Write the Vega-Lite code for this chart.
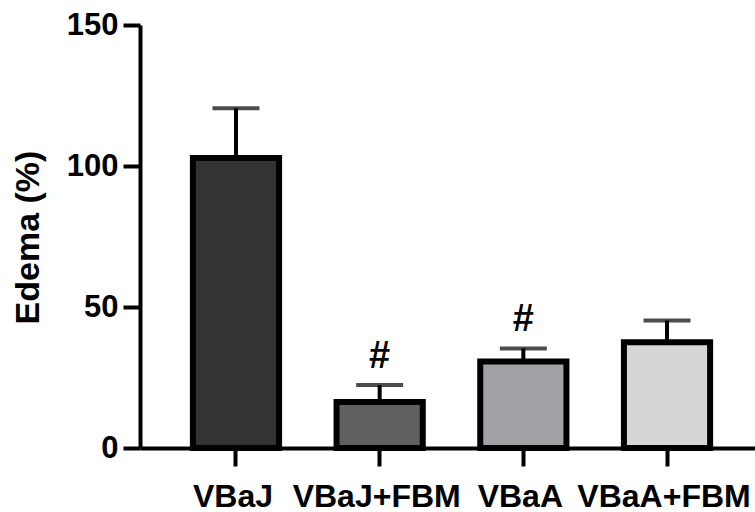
{
  "$schema": "https://vega.github.io/schema/vega-lite/v6.json",
  "width": 623,
  "height": 423,
  "autosize": "none",
  "padding": {"left": 140, "top": 25, "right": 0, "bottom": 64},
  "background": "white",
  "config": {"view": {"stroke": null}, "font": "Liberation Sans"},
  "data": {
    "values": [
      {"group": "VBaJ", "mean": 102.8, "upper": 120.5, "sig": ""},
      {"group": "VBaJ+FBM", "mean": 16.3, "upper": 22.3, "sig": "#"},
      {"group": "VBaA", "mean": 30.7, "upper": 35.3, "sig": "#"},
      {"group": "VBaA+FBM", "mean": 37.5, "upper": 45.2, "sig": ""}
    ]
  },
  "encoding": {
    "x": {
      "field": "group",
      "type": "nominal",
      "sort": null,
      "scale": {"paddingInner": 0.4, "paddingOuter": 0.368},
      "axis": {
        "title": null,
        "labelAngle": 0,
        "labelFont": "Liberation Sans",
        "labelFontWeight": "bold",
        "labelFontSize": 32,
        "labelColor": "black",
        "labelPadding": 40,
        "labelBaseline": "alphabetic",
        "labelOffset": -3,
        "labelOverlap": false,
        "domainColor": "black",
        "domainWidth": 4,
        "tickColor": "black",
        "tickWidth": 4,
        "tickSize": 18,
        "grid": false
      }
    }
  },
  "layer": [
    {
      "mark": {"type": "rule", "color": "black", "strokeWidth": 4},
      "encoding": {
        "y": {"field": "mean", "type": "quantitative"},
        "y2": {"field": "upper"}
      }
    },
    {
      "mark": {"type": "tick", "color": "black", "thickness": 4, "size": 47, "orient": "horizontal"},
      "encoding": {
        "y": {"field": "upper", "type": "quantitative"}
      }
    },
    {
      "mark": {"type": "bar", "stroke": "black", "strokeWidth": 6},
      "encoding": {
        "y": {
          "field": "mean",
          "type": "quantitative",
          "scale": {"domain": [0, 150], "nice": false},
          "axis": {
            "title": "Edema (%)",
            "values": [0, 50, 100, 150],
            "titleFont": "Liberation Sans",
            "titleFontWeight": "bold",
            "titleFontSize": 34,
            "titleColor": "black",
            "titleX": -112,
            "titleY": 212,
            "titleAngle": 270,
            "titleAlign": "center",
            "titleBaseline": "middle",
            "labelFont": "Liberation Sans",
            "labelFontWeight": "bold",
            "labelFontSize": 31,
            "labelColor": "black",
            "labelPadding": 5,
            "domainColor": "black",
            "domainWidth": 4,
            "tickColor": "black",
            "tickWidth": 4,
            "tickSize": 17,
            "grid": false
          }
        },
        "fill": {
          "field": "group",
          "type": "nominal",
          "sort": null,
          "scale": {
            "domain": ["VBaJ", "VBaJ+FBM", "VBaA", "VBaA+FBM"],
            "range": ["#333333", "#606060", "#a2a2a6", "#d6d6d6"]
          },
          "legend": null
        }
      }
    },
    {
      "mark": {"type": "text", "fontSize": 38, "fontWeight": "bold", "font": "Liberation Sans", "color": "black", "baseline": "middle", "dy": -28},
      "encoding": {
        "y": {"field": "upper", "type": "quantitative"},
        "text": {"field": "sig"}
      }
    }
  ]
}
